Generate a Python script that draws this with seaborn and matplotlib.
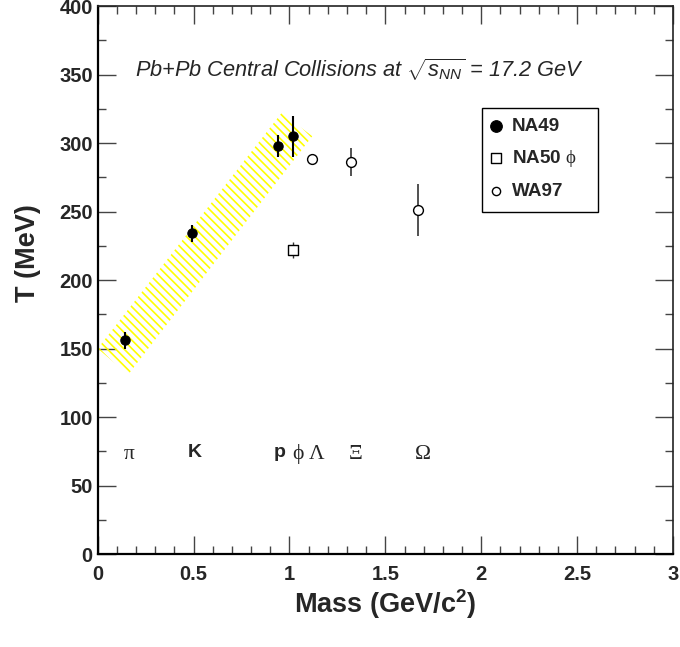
import numpy as np
import pandas as pd
import matplotlib
matplotlib.use("Agg")
import matplotlib.pyplot as plt
from matplotlib.patches import Rectangle
import seaborn as sns

# NA49 measurements
na49_mass = [0.140, 0.494, 0.938, 1.019]
na49_T = [156, 234, 298, 305]
na49_err = [6, 6, 8, 15]

# NA50 phi
na50_mass = [1.019]
na50_T = [222]
na50_err = [6]

# WA97 hyperons
wa97_mass = [1.116, 1.321, 1.672]
wa97_T = [288, 286, 251]
wa97_err = [2, 10, 19]

# systematic band around the NA49 trend
band_mass = [0.0, 0.159, 1.119, 0.959]
band_T = [150, 131, 305, 322]

# particle labels along the mass axis
part_mass = [0.140, 0.494, 0.938, 1.019, 1.116, 1.321, 1.672]
part_label = ["π", "K", "p", "ϕ", "Λ", "Ξ", "Ω"]
part_greek = [True, False, False, True, True, True, True]

sns.set_style("ticks")
plt.rcParams["font.family"] = ["Liberation Sans", "DejaVu Sans"]
plt.rcParams["mathtext.fontset"] = "custom"
plt.rcParams["mathtext.it"] = "Liberation Sans:italic"
plt.rcParams["mathtext.rm"] = "Liberation Serif"
plt.rcParams["mathtext.bf"] = "Liberation Sans:bold"
plt.rcParams["hatch.linewidth"] = 1.2

fig = plt.figure(figsize=(6.8, 6.47), dpi=100)
ax = fig.add_axes([0.1437, 0.1437, 0.846, 0.847])

ax.fill(band_mass, band_T, facecolor="none", edgecolor="#ffff00",
        hatch="\\\\\\\\", linewidth=0, zorder=1)

ax.errorbar(na49_mass, na49_T, yerr=na49_err, fmt="none", ecolor="black",
            elinewidth=1.5, capsize=0, zorder=2)
ax.errorbar(na50_mass, na50_T, yerr=na50_err, fmt="none", ecolor="#333333",
            elinewidth=1.0, capsize=0, zorder=2)
ax.errorbar(wa97_mass, wa97_T, yerr=wa97_err, fmt="none", ecolor="#333333",
            elinewidth=1.2, capsize=0, zorder=2)

df49 = pd.DataFrame({"mass": na49_mass, "T": na49_T})
df50 = pd.DataFrame({"mass": na50_mass, "T": na50_T})
df97 = pd.DataFrame({"mass": wa97_mass, "T": wa97_T})

sns.scatterplot(data=df49, x="mass", y="T", ax=ax, marker="o", s=45,
                color="black", edgecolor="black", linewidth=0.8, zorder=3,
                label="NA49")
sns.scatterplot(data=df50, x="mass", y="T", ax=ax, marker="s", s=45,
                facecolor="white", edgecolor="black", linewidth=1.0, zorder=3,
                label=r"NA50 $\mathrm{\phi}$")
sns.scatterplot(data=df97, x="mass", y="T", ax=ax, marker="o", s=50,
                facecolor="white", edgecolor="black", linewidth=1.0, zorder=3,
                label="WA97")

for m, lab, greek in zip(part_mass, part_label, part_greek):
    if greek:
        ax.text(m + 0.025, 73, lab, ha="center", va="center", fontsize=15.5,
                family=["Liberation Serif", "DejaVu Serif"])
    else:
        ax.text(m + 0.01, 74, lab, ha="center", va="center", fontsize=14,
                fontweight="bold")

ax.text(0.455, 0.883, r"Pb+Pb Central Collisions at $\sqrt{s_{NN}}$ = 17.2 GeV",
        transform=ax.transAxes, ha="center", va="center", fontsize=15.7,
        style="italic")

ax.set_xlim(0, 3)
ax.set_ylim(0, 400)
ax.set_xticks(np.arange(0, 3.01, 0.5))
ax.set_xticklabels(["0", "0.5", "1", "1.5", "2", "2.5", "3"])
ax.set_xticks(np.arange(0, 3.01, 0.1), minor=True)
ax.set_yticks(np.arange(0, 401, 50))
ax.set_yticks(np.arange(0, 401, 25), minor=True)

ax.tick_params(axis="both", which="both", direction="in", top=True,
               right=True, color="#444444", width=1.0)
ax.tick_params(axis="both", which="major", length=13, labelsize=14.5)
ax.tick_params(axis="both", which="minor", length=6)
ax.tick_params(axis="x", which="major", pad=8)
ax.tick_params(axis="y", which="major", pad=3.5)
for lbl in ax.get_xticklabels() + ax.get_yticklabels():
    lbl.set_fontweight("bold")

for side in ("left", "bottom"):
    ax.spines[side].set_linewidth(1.6)
    ax.spines[side].set_color("black")
for side in ("top", "right"):
    ax.spines[side].set_linewidth(1.2)
    ax.spines[side].set_color("#222222")

ax.set_xlabel("Mass (GeV/c$^{\\mathbf{2}}$)", fontsize=19.5, fontweight="bold",
              va="center")
ax.set_ylabel("T (MeV)", fontsize=19.5, fontweight="bold", va="center")
ax.xaxis.set_label_coords(0.5, -0.092)
ax.yaxis.set_label_coords(-0.121, 0.549)

# legend entries, framed by a box in axes coordinates
leg = ax.legend(loc="upper left", bbox_to_anchor=(0.684, 0.796),
                frameon=False, prop={"weight": "bold", "size": 13.6},
                handletextpad=0.6, borderpad=0.0, labelspacing=0.7,
                handlelength=0.5, borderaxespad=0)
handles = leg.legend_handles
handles[0].set_sizes([70])
handles[1].set_sizes([45])
handles[2].set_sizes([35])
ax.add_patch(Rectangle((0.6685, 0.6246), 0.2005, 0.1884,
                       transform=ax.transAxes, facecolor="none",
                       edgecolor="black", linewidth=1.0, zorder=4))

fig.savefig("out.png", dpi=100, facecolor="white")
